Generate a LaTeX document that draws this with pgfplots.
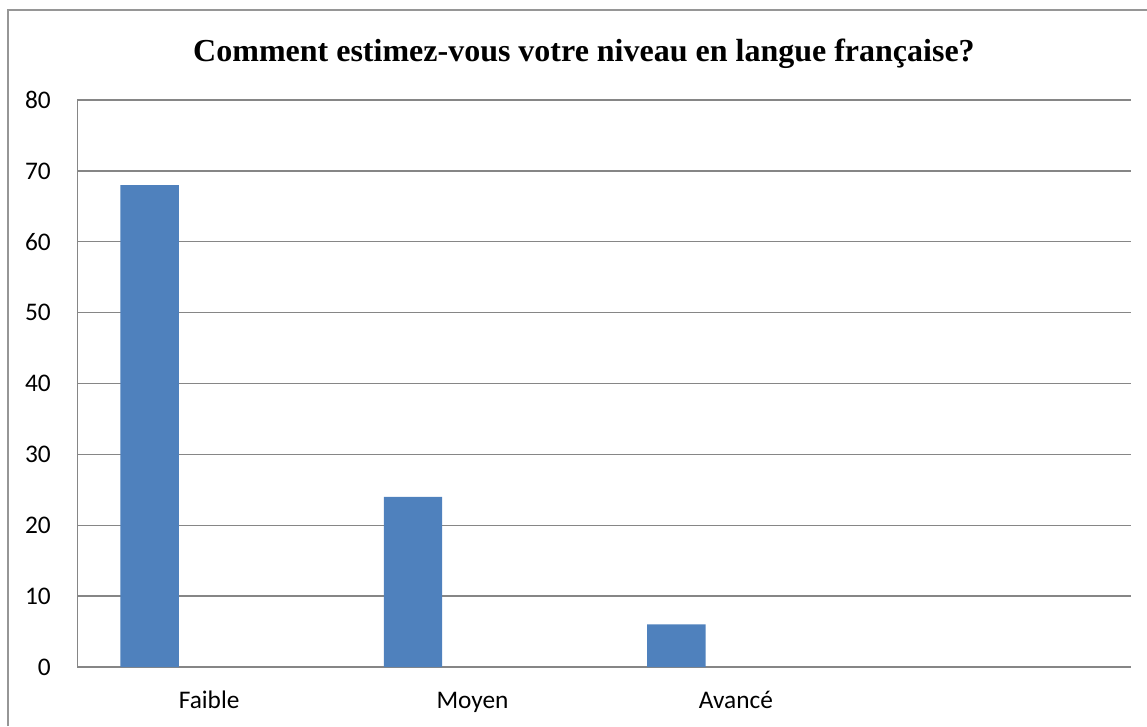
\documentclass[border=0pt]{standalone}
\usepackage{fontspec}
\setmainfont{Liberation Serif}
\newfontfamily\calibri{Carlito}
\usepackage{pgfplots}
\pgfplotsset{compat=1.18}
\definecolor{barblue}{RGB}{79,129,189}
\definecolor{gridgray}{RGB}{134,134,134}
\definecolor{framegray}{RGB}{150,150,150}

\begin{document}
\begin{tikzpicture}
\useasboundingbox (0,0) rectangle (860.25pt,544.5pt);
% chart frame (left and top edges visible)
\draw[framegray, line width=0.9pt] (6pt,0) -- (6pt,537pt) -- (860.25pt,537pt);
\node[font=\fontsize{24}{29}\selectfont\bfseries] at (438pt,504.5pt)
  {Comment estimez-vous votre niveau en langue française?};
\begin{axis}[
    at={(58.1pt,44.25pt)}, anchor=south west,
    scale only axis,
    width=790.1pt, height=425.25pt,
    ybar,
    bar width=0.222,
    xmin=-0.5, xmax=3.5,
    ymin=0, ymax=80,
    ytick={0,10,...,80},
    xtick={0,1,2},
    xticklabels={Faible,Moyen,Avancé},
    major tick length=0pt,
    axis lines=left,
    axis line style={-, draw=gridgray, line width=1.2pt},
    ymajorgrids,
    grid style={draw=gridgray, line width=1pt},
    tick label style={font=\calibri\fontsize{19}{23}\selectfont},
    /pgf/number format/assume math mode=true,
    yticklabel style={xshift=-16.5pt},
    xticklabel style={anchor=base, yshift=-31pt},
    clip=false,
]
\addplot[fill=barblue, draw=none, bar shift=-0.226] coordinates {
  (0,68) (1,24) (2,6)
};
\end{axis}
\end{tikzpicture}
\end{document}
